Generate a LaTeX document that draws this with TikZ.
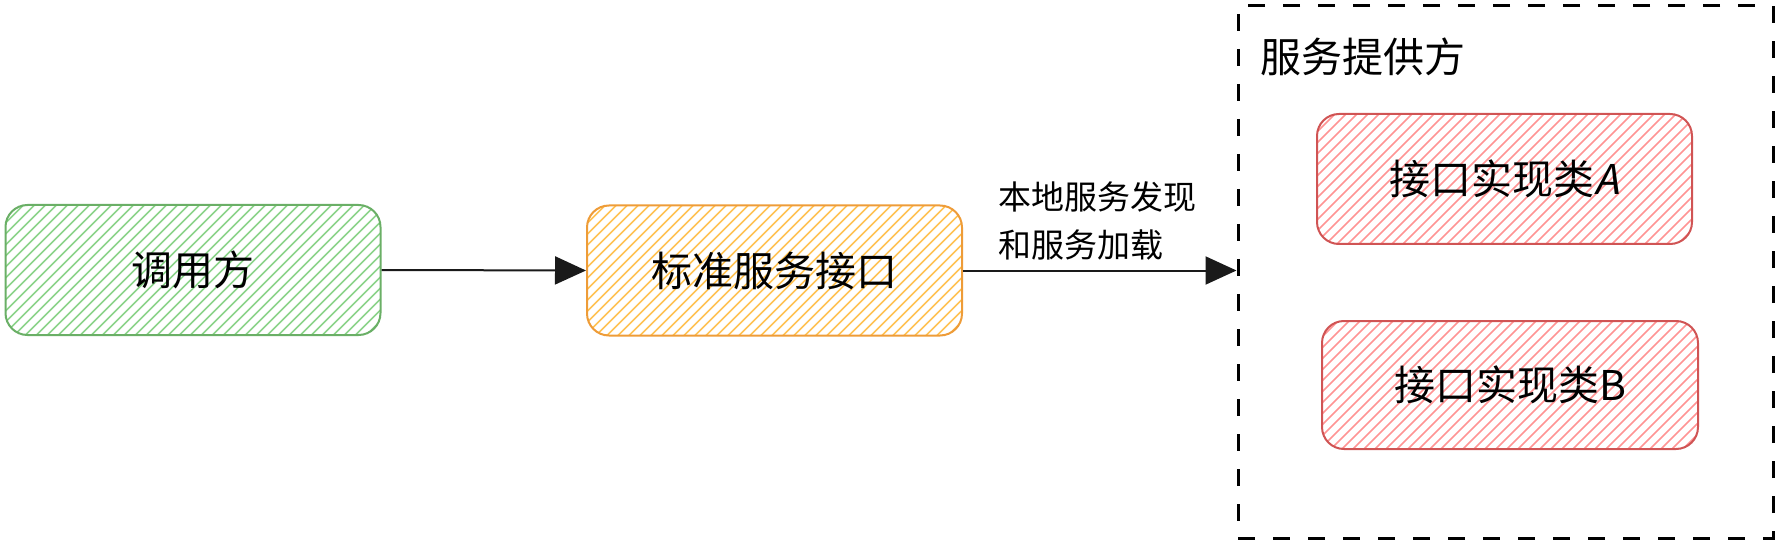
\documentclass[tikz,border=0pt]{standalone}
\usepackage{fontspec}
\setmainfont{Noto Sans CJK SC}
\newfontfamily\slantfont[FakeSlant=0.2]{Noto Sans CJK SC}
\usetikzlibrary{arrows.meta,calc}
\definecolor{gstroke}{HTML}{6AAF66}
\definecolor{ghatch}{HTML}{8CD38A}
\definecolor{ostroke}{HTML}{EE9C38}
\definecolor{ohatch}{HTML}{FFC254}
\definecolor{rstroke}{HTML}{D05454}
\definecolor{rhatch}{HTML}{FF9494}
\definecolor{lineclr}{HTML}{1A1A1A}
\tikzset{
  hatched/.style={path picture={
    \foreach \i in {0,...,56}{
      \draw[#1, line width=1.6pt] ([xshift=\i*11pt-200pt]path picture bounding box.south west) -- ++(200pt,200pt);
    }}},
  sketchbox/.style 2 args={draw=#1, line width=2pt, rounded corners=22pt,
    minimum width=375pt, minimum height=130pt, inner sep=0pt,
    font=\fontsize{41pt}{49pt}\selectfont, hatched=#2},
  conn/.style={draw=lineclr, line width=2pt, -{Triangle[length=31pt,width=28pt]}},
  groupbox/.style={draw=black, line width=3pt, dash pattern=on 17pt off 18pt,
    minimum width=535pt, minimum height=532pt, inner sep=0pt},
}
\begin{document}
\begin{tikzpicture}[x=1pt,y=-1pt]
\useasboundingbox (0,0) rectangle (1778,548);
\node[groupbox] (prov) at (1505.5,272) {};
\node[sketchbox={gstroke}{ghatch}] (caller) at (193,270) {调用方};
\node[sketchbox={ostroke}{ohatch}] (std) at (774.5,270.5) {标准服务接口};
\node[sketchbox={rstroke}{rhatch}] (implA) at (1504.5,179) {接口实现类{\slantfont A}};
\node[sketchbox={rstroke}{rhatch}, minimum width=376pt, minimum height=128pt] (implB) at (1510,385) {接口实现类B};
\node[anchor=west, inner sep=0pt, font=\fontsize{41pt}{49pt}\selectfont] (title) at (1260,57) {服务提供方};
\node[anchor=west, align=left, inner sep=0pt, font=\fontsize{33pt}{48pt}\selectfont] (lbl) at (998,221) {本地服务发现\\和服务加载};
\draw[conn] (caller.east) -- (std.west);
\draw[conn] (std.east) -- (std.east -| prov.west);
\end{tikzpicture}
\end{document}
